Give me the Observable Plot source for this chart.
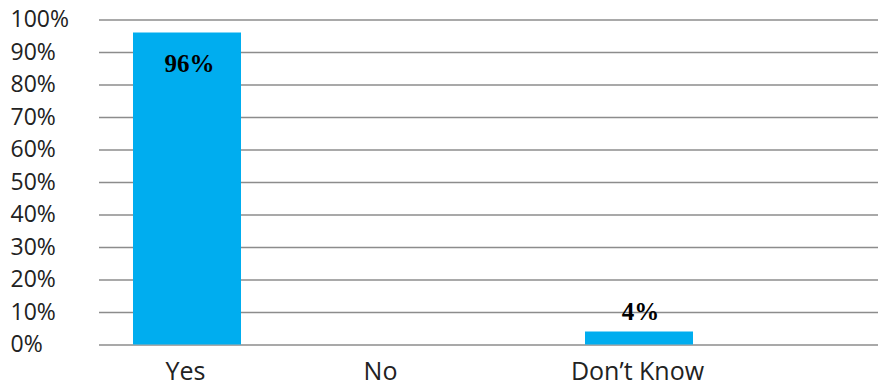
<!DOCTYPE html>
<html>
<head>
<meta charset="utf-8">
<script src="https://cdn.jsdelivr.net/npm/d3@7"></script>
<script src="https://cdn.jsdelivr.net/npm/@observablehq/plot@0.6"></script>
<style>
  html, body { margin: 0; padding: 0; background: #fff; }
  #chart svg { display: block; }
</style>
</head>
<body>
<div id="chart"></div>
<script>
// Survey answers and their shares (percent)
const categories = ["Yes", "No", "Don\u2019t Know"];
const shares = [96, 0, 4];
const yTicks = [0, 10, 20, 30, 40, 50, 60, 70, 80, 90, 100];

const data = categories.map((c, i) => ({answer: c, share: shares[i]}));
const bars = data.filter(d => d.share > 0);

const sans = "'Open Sans', Lato, sans-serif";
const serif = "'Liberation Serif', 'Times New Roman', serif";

const chart = Plot.plot({
  width: 878,
  height: 386,
  marginLeft: 99,
  marginRight: 0,
  marginTop: 19,
  marginBottom: 42,
  style: {background: "#fff", fontFamily: sans},
  x: {domain: categories, range: [14, 813], padding: 0.52, axis: null},
  y: {domain: [0, 100], range: [344.5, 19.5], axis: null},
  marks: [
    // horizontal gridlines
    Plot.ruleY(yTicks, {stroke: "#8c8c8c", strokeWidth: 1.5}),
    // bars
    Plot.barY(bars, {x: "answer", y: "share", fill: "#00adef"}),
    // value labels: inside the tall bar, above the short one
    Plot.text(bars.filter(d => d.share >= 50), {
      x: "answer", y: "share", text: d => `${d.share}%`, dx: 2, dy: 31,
      fontFamily: serif, fontWeight: "bold", fontSize: 25, fill: "#000"
    }),
    Plot.text(bars.filter(d => d.share < 50), {
      x: "answer", y: "share", text: d => `${d.share}%`, dx: 1, dy: -20,
      fontFamily: serif, fontWeight: "bold", fontSize: 25, fill: "#000"
    }),
    // y tick labels, left aligned at the page edge
    Plot.text(yTicks, {
      y: d => d, text: d => `${d}%`,
      frameAnchor: "left", dx: -89, textAnchor: "start",
      fontSize: 23, fill: "#222"
    }),
    // category labels
    Plot.text(data.filter(d => d.answer !== "No"), {
      x: "answer", frameAnchor: "bottom", dy: 35, dx: -2, text: "answer",
      fontSize: 25, fill: "#222", letterSpacing: 2
    }),
    Plot.text(data.filter(d => d.answer === "No"), {
      x: "answer", frameAnchor: "bottom", dy: 35, dx: -33, text: "answer",
      fontSize: 25, fill: "#222", letterSpacing: 2
    })
  ]
});

document.getElementById("chart").append(chart);
</script>
</body>
</html>
